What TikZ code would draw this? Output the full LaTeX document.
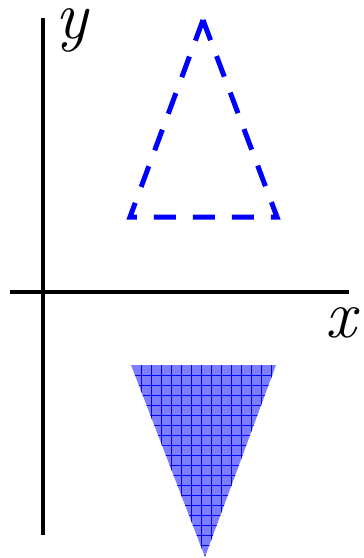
\documentclass[tikz,border=0pt]{standalone}
\begin{document}
\begin{tikzpicture}[x=1pt,y=-1pt,
  axisline/.style={line width=4.5pt},
  lbl/.style={font=\fontsize{68}{68}\selectfont\itshape, inner sep=0pt, anchor=base, text height=1ex, text depth=0.25em},
  dashtri/.style={blue, line width=5pt, dash pattern=on 22pt off 17pt},
  filltri/.style={fill={rgb,255:red,125;green,125;blue,255}},
  gridline/.style={blue, line width=0.6pt}]
\useasboundingbox (0,0) rectangle (364,558);
\coordinate (ytop) at (43,18);
\coordinate (ybot) at (43,535);
\coordinate (xleft) at (10,292);
\coordinate (xright) at (349,292);
\draw[axisline] (ytop) -- (ybot);
\draw[axisline] (xleft) -- (xright);
\node[lbl] (ylabel) at (72,38) {y};
\node[lbl] (xlabel) at (341,337) {x};
\coordinate (A) at (203,20);
\coordinate (B) at (130,217);
\coordinate (C) at (277,217);
\draw[dashtri] (A) -- (B) -- (C) -- cycle;
\coordinate (P) at (131,365);
\coordinate (Q) at (276,365);
\coordinate (R) at (205,557);
\fill[filltri] (P) -- (Q) -- (R) -- cycle;
\begin{scope}
\clip (P) -- (Q) -- (R) -- cycle;
\foreach \i in {141,151,...,271} \draw[gridline] (\i,365) -- (\i,558);
\foreach \j in {375,385,...,555} \draw[gridline] (131,\j) -- (276,\j);
\end{scope}
\end{tikzpicture}
\end{document}
